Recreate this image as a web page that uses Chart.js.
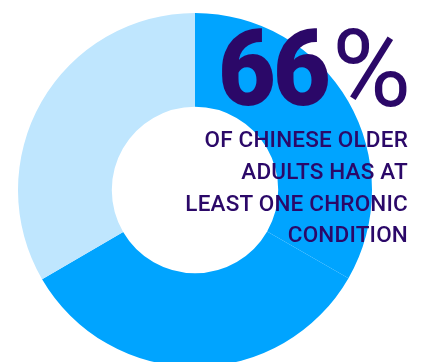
<!DOCTYPE html>
<html>
<head>
<meta charset="utf-8">
<script src="https://cdn.jsdelivr.net/npm/chart.js@4"></script>
<style>
  html, body { margin: 0; padding: 0; background: #fff; overflow: hidden; }
  #wrap { position: relative; width: 428px; height: 380px; }
  .txt { position: absolute; color: #2b0868; font-family: Roboto, sans-serif; white-space: nowrap; line-height: 1; }
  #num { left: 218px; top: 16px; font-size: 106px; font-weight: 900; letter-spacing: -3px; transform-origin: left center; transform: scaleX(0.94); }
  #pct { left: 332px; top: 15px; font-size: 108px; font-weight: 400; }
  .line { right: 20px; font-size: 22.5px; font-weight: 500; letter-spacing: 0.2px; }
</style>
</head>
<body>
<div id="wrap">
  <canvas id="chart" width="428" height="380"></canvas>
  <div class="txt" id="num">66</div>
  <div class="txt" id="pct">%</div>
  <div class="txt line" style="top:128px">OF CHINESE OLDER</div>
  <div class="txt line" style="top:160px">ADULTS HAS AT</div>
  <div class="txt line" style="top:192px">LEAST ONE CHRONIC</div>
  <div class="txt line" style="top:223px">CONDITION</div>
</div>
<script>
// slices of the ring, clockwise from the top
const labels = ["Chronic condition (a)", "Chronic condition (b)", "No chronic condition"]
const values = [33.3, 33.3, 33.4]
const colors = ["#00a4ff", "#00a4ff", "#bfe6fe"]

const chart = new Chart(document.getElementById("chart"), {
  type: "doughnut",
  data: {
    labels: labels,
    datasets: [{
      data: values,
      backgroundColor: colors,
      borderWidth: 0,
    }],
  },
  options: {
    responsive: false,
    animation: false,
    cutout: "47%",
    layout: { padding: { left: 18, right: 56, top: 13, bottom: 13 } },
    plugins: { legend: { display: false }, tooltip: { enabled: false } },
  },
})
</script>
</body>
</html>
